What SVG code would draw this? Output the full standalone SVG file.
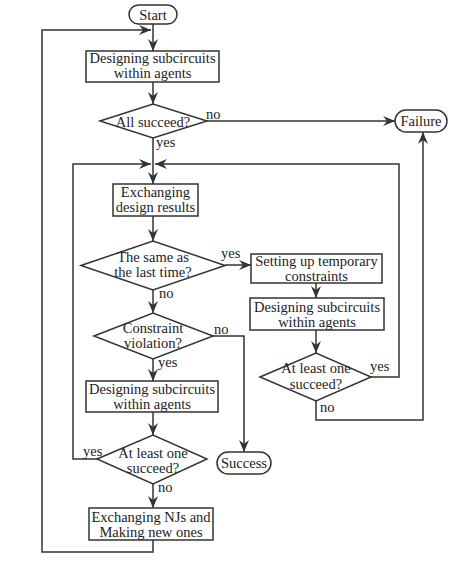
<svg xmlns="http://www.w3.org/2000/svg" width="472" height="567" viewBox="0 0 472 567">
<style>
.n{fill:#fff;stroke:#333;stroke-width:1.5}
.c{fill:none;stroke:#333;stroke-width:1.5}
text{font-family:"Liberation Serif","Times New Roman",serif;font-size:14.5px;fill:#222}
.m{text-anchor:middle}
</style>
<defs>
<marker id="a" viewBox="0 0 12 10" refX="12" refY="5" markerWidth="12" markerHeight="10" markerUnits="userSpaceOnUse" orient="auto">
<path d="M0,0 L12,5 L0,10 L4,5 z" fill="#333"/>
</marker>
</defs>
<rect width="472" height="567" fill="#fff"/>
<g id="connectors">
<path class="c" d="M153,24 V51" marker-end="url(#a)"/>
<path class="c" d="M153,540 V552 H42 V30 H151" marker-end="url(#a)"/>
<path class="c" d="M153,82 V104" marker-end="url(#a)"/>
<path class="c" d="M207,121 H395" marker-end="url(#a)"/>
<path class="c" d="M153,138 V184" marker-end="url(#a)"/>
<path class="c" d="M98,459 H73 V164 H151" marker-end="url(#a)"/>
<path class="c" d="M371,377 H399 V164 H155" marker-end="url(#a)"/>
<path class="c" d="M153,216 V241" marker-end="url(#a)"/>
<path class="c" d="M225,265 H251" marker-end="url(#a)"/>
<path class="c" d="M153,290 V313" marker-end="url(#a)"/>
<path class="c" d="M213,336 H244 V452" marker-end="url(#a)"/>
<path class="c" d="M153,359 V381" marker-end="url(#a)"/>
<path class="c" d="M153,412 V435" marker-end="url(#a)"/>
<path class="c" d="M153,484 V508" marker-end="url(#a)"/>
<path class="c" d="M316,283 V298" marker-end="url(#a)"/>
<path class="c" d="M316,330 V353" marker-end="url(#a)"/>
<path class="c" d="M316,401 V420 H423 V132" marker-end="url(#a)"/>
</g>
<g id="labels">
<text x="206" y="119">no</text>
<text x="156" y="147">yes</text>
<text x="221" y="258">yes</text>
<text x="159" y="298">no</text>
<text x="214" y="334">no</text>
<text x="158" y="367">yes</text>
<text x="83" y="456">yes</text>
<text x="158" y="492">no</text>
<text x="370" y="371">yes</text>
<text x="320" y="412">no</text>
</g>
<g id="start">
<rect class="n" x="129" y="5" width="48" height="19" rx="9.5"/>
<text class="m" x="153" y="19.5">Start</text>
</g>
<g id="design1">
<rect class="n" x="86" y="51" width="133" height="31"/>
<text class="m" x="152.5" y="63">Designing subcircuits</text>
<text class="m" x="152.5" y="78">within agents</text>
</g>
<g id="allsucceed">
<polygon class="n" points="100,121 153,104 207,121 153,138"/>
<text class="m" x="153" y="127">All succeed?</text>
</g>
<g id="failure">
<rect class="n" x="395" y="110" width="52" height="22" rx="11"/>
<text class="m" x="421" y="126">Failure</text>
</g>
<g id="exchange">
<rect class="n" x="113" y="184" width="85" height="32"/>
<text class="m" x="155.5" y="197">Exchanging</text>
<text class="m" x="155.5" y="212">design results</text>
</g>
<g id="same">
<polygon class="n" points="81,265.5 153,241 225,265.5 153,290"/>
<text class="m" x="153" y="262">The same as</text>
<text class="m" x="153" y="277">the last time?</text>
</g>
<g id="setting">
<rect class="n" x="251" y="254" width="131" height="29"/>
<text class="m" x="316.5" y="266">Setting up temporary</text>
<text class="m" x="316.5" y="281">constraints</text>
</g>
<g id="design2">
<rect class="n" x="250" y="298" width="134" height="32"/>
<text class="m" x="317" y="311.5">Designing subcircuits</text>
<text class="m" x="317" y="326.5">within agents</text>
</g>
<g id="atleast2">
<polygon class="n" points="260,377 316,353 371,377 316,401"/>
<text class="m" x="316" y="373">At least one</text>
<text class="m" x="316" y="389">succeed?</text>
</g>
<g id="constraint">
<polygon class="n" points="94,336 153,313 213,336 153,359"/>
<text class="m" x="153" y="333">Constraint</text>
<text class="m" x="153" y="348">violation?</text>
</g>
<g id="success">
<rect class="n" x="217" y="452" width="54" height="22" rx="11"/>
<text class="m" x="244" y="468">Success</text>
</g>
<g id="design3">
<rect class="n" x="86" y="381" width="132" height="31"/>
<text class="m" x="152" y="393.5">Designing subcircuits</text>
<text class="m" x="152" y="408.5">within agents</text>
</g>
<g id="atleast1">
<polygon class="n" points="97,459 153,435 207,459 153,484"/>
<text class="m" x="153" y="458">At least one</text>
<text class="m" x="153" y="473">succeed?</text>
</g>
<g id="njs">
<rect class="n" x="89" y="508" width="124" height="32"/>
<text class="m" x="151" y="521.5">Exchanging NJs and</text>
<text class="m" x="151" y="536.5">Making new ones</text>
</g>
</svg>
